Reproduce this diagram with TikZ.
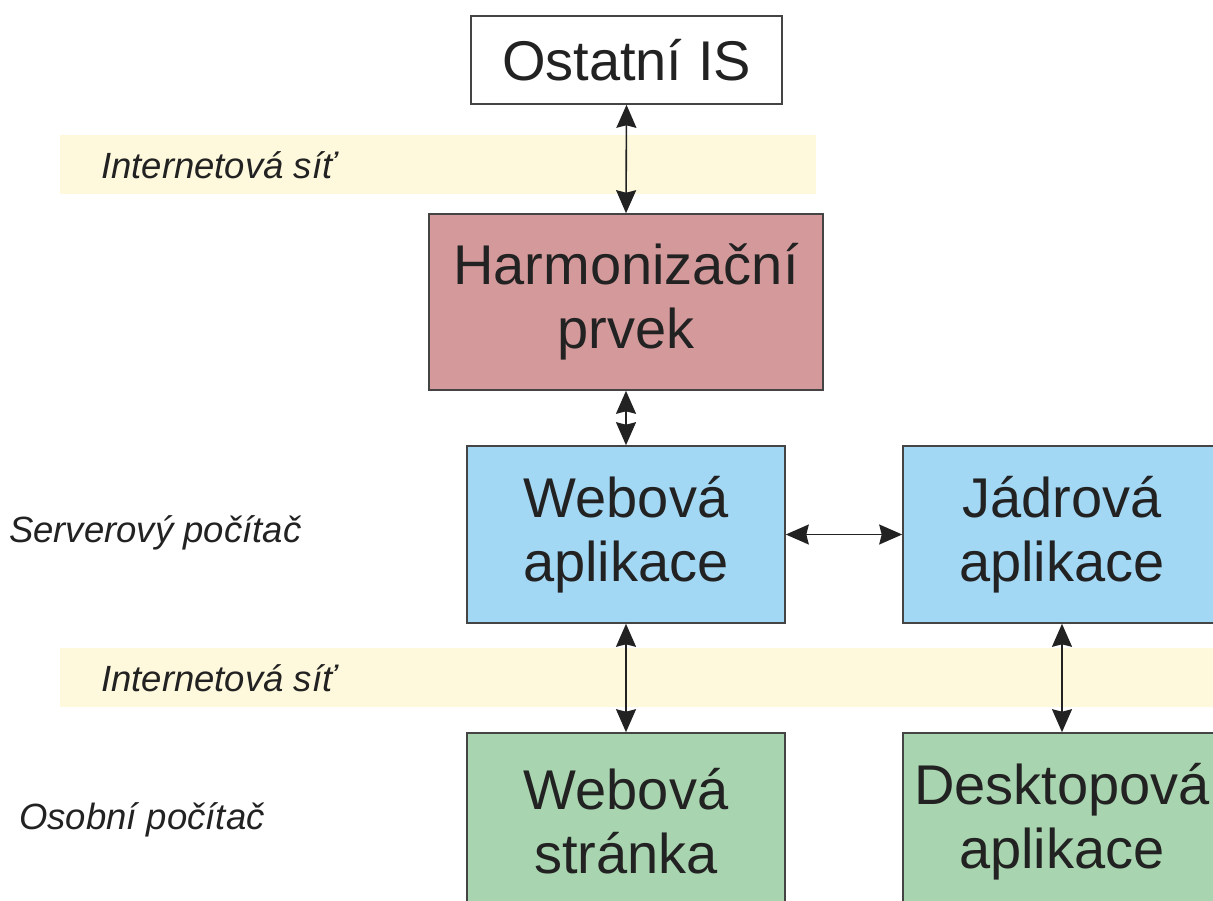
\documentclass[tikz,border=0pt]{standalone}
\usepackage{fontspec}
\setmainfont{Liberation Sans}
\usetikzlibrary{arrows.meta}
\definecolor{txt}{HTML}{222222}
\definecolor{edge}{HTML}{444444}
\definecolor{band}{HTML}{FEF9DC}
\definecolor{pinkfill}{HTML}{D4999B}
\definecolor{bluefill}{HTML}{A3D8F5}
\definecolor{greenfill}{HTML}{A8D4AF}
\tikzset{
  box/.style={draw=edge, line width=1.6pt, text=txt, align=center, inner sep=0pt,
    font=\fontsize{56}{64}\selectfont},
  bandbox/.style={fill=band, draw=none, inner sep=0pt},
  lab/.style={text=txt, anchor=west, inner sep=0pt, font=\itshape\fontsize{36.5}{42}\selectfont},
  link/.style={draw=txt, line width=1.6pt, {Stealth[length=23pt,width=20pt,inset=2.5pt]}-{Stealth[length=23pt,width=20pt,inset=2.5pt]}}
}
\begin{document}
\begin{tikzpicture}[x=1pt,y=-1pt]
\useasboundingbox (0,0) rectangle (1213,901);
\fill[white] (0,0) rectangle (1213,901);
% bands
\node[bandbox, minimum width=756pt, minimum height=59pt] (band1) at (438,164.5) {};
\node[bandbox, minimum width=1160pt, minimum height=59pt] (band2) at (640,677.5) {};
% labels
\node[lab] (net1) at (101,165) {Internetová síť};
\node[lab] (net2) at (101,678) {Internetová síť};
\node[lab] (server) at (9,533) {Serverový počítač};
\node[lab] (pc) at (19,820) {Osobní počítač};
% boxes
\node[box, fill=white, minimum width=311pt, minimum height=88pt] (ostatni) at (626.5,60) {Ostatní IS};
\node[box, fill=pinkfill, minimum width=394pt, minimum height=176pt] (harm) at (626,302) {Harmonizační\\prvek};
\node[box, fill=bluefill, minimum width=318pt, minimum height=177pt] (webapp) at (626,534.5) {Webová\\aplikace};
\node[box, fill=bluefill, minimum width=318pt, minimum height=177pt] (jadro) at (1062,534.5) {Jádrová\\aplikace};
\node[box, fill=greenfill, minimum width=318pt, minimum height=177pt] (webpage) at (626,821.5) {Webová\\stránka};
\node[box, fill=greenfill, minimum width=318pt, minimum height=177pt] (desktop) at (1062,821.5) {Desktopová\\aplikace};
% connectors
\draw[link] (ostatni.south) -- (harm.north);
\draw[link] (harm.south) -- (webapp.north);
\draw[link] (webapp.east) -- (jadro.west);
\draw[link] (webapp.south) -- (webpage.north);
\draw[link] (jadro.south) -- (desktop.north);
\end{tikzpicture}
\end{document}
